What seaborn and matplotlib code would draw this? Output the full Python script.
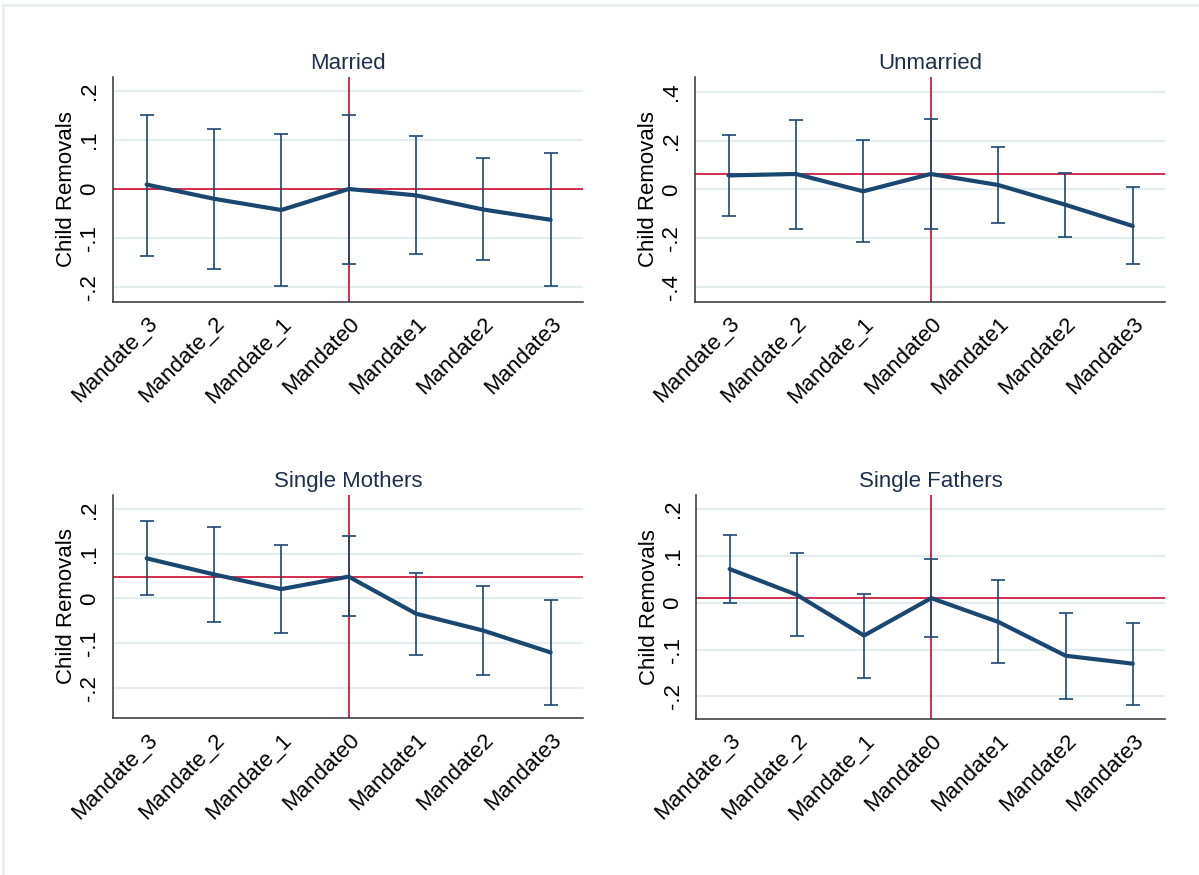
import matplotlib
matplotlib.use("Agg")
import matplotlib.pyplot as plt
import matplotlib.ticker as mticker
from matplotlib.patches import Rectangle
import seaborn as sns
import pandas as pd

# event-time categories
mandates = ["Mandate_3", "Mandate_2", "Mandate_1", "Mandate0",
            "Mandate1", "Mandate2", "Mandate3"]

# Married
married_est = [0.009, -0.020, -0.043, 0.000, -0.013, -0.042, -0.063]
married_lo = [-0.136, -0.163, -0.199, -0.154, -0.132, -0.146, -0.199]
married_hi = [0.152, 0.123, 0.113, 0.152, 0.108, 0.063, 0.074]
married_ref = 0.0

# Unmarried
unmarried_est = [0.057, 0.063, -0.008, 0.063, 0.018, -0.063, -0.150]
unmarried_lo = [-0.109, -0.162, -0.216, -0.162, -0.138, -0.197, -0.307]
unmarried_hi = [0.223, 0.284, 0.202, 0.288, 0.173, 0.068, 0.010]
unmarried_ref = 0.063

# Single mothers
mothers_est = [0.090, 0.054, 0.021, 0.049, -0.034, -0.072, -0.121]
mothers_lo = [0.007, -0.052, -0.078, -0.040, -0.127, -0.172, -0.238]
mothers_hi = [0.173, 0.160, 0.120, 0.140, 0.058, 0.028, -0.004]
mothers_ref = 0.049

# Single fathers
fathers_est = [0.072, 0.017, -0.070, 0.010, -0.041, -0.113, -0.130]
fathers_lo = [-0.001, -0.070, -0.161, -0.074, -0.129, -0.206, -0.218]
fathers_hi = [0.145, 0.106, 0.019, 0.094, 0.048, -0.021, -0.043]
fathers_ref = 0.010

NAVY = "#1a476f"
RED = "#d01c3f"
GRID = "#e4eef1"
TEXT = "#1e2f4d"
FS = 16


def stata_fmt(x, pos):
    """Stata-like tick labels: .2, 0, -.1"""
    if abs(x) < 1e-9:
        return "0"
    s = f"{x:g}"
    return s.replace("0.", ".")


def draw_panel(ax, title, est, lo, hi, ref, ylim, yticks):
    df = pd.DataFrame({"mandate": mandates, "est": est, "lo": lo, "hi": hi})
    pos = list(range(len(mandates)))

    for t in yticks:
        ax.axhline(t, color=GRID, lw=1.6, zorder=0)
    ax.axhline(ref, color=RED, lw=1.3, zorder=1)
    ax.axvline(pos[mandates.index("Mandate0")], color=RED, lw=1.3, zorder=1)

    ax.errorbar(pos, df["est"],
                yerr=[df["est"] - df["lo"], df["hi"] - df["est"]],
                fmt="none", ecolor=NAVY, elinewidth=1.4, capsize=5,
                capthick=1.4, zorder=2, alpha=0.85)
    sns.lineplot(x=pos, y=df["est"].values, ax=ax, color=NAVY, lw=3,
                 zorder=3)

    ax.set_xlim(-0.5, 6.48)
    ax.set_ylim(*ylim)
    ax.set_xticks(pos)
    ax.set_xticklabels(mandates, rotation=45, ha="right",
                       rotation_mode="anchor", fontsize=FS, color="black")
    ax.set_yticks(yticks)
    ax.yaxis.set_major_formatter(mticker.FuncFormatter(stata_fmt))
    for lab in ax.get_yticklabels():
        lab.set_rotation(90)
        lab.set_va("center")
        lab.set_fontsize(FS)
        lab.set_color("black")
    ax.tick_params(axis="both", length=6, width=1.1, color="#333333",
                   direction="out")
    ax.tick_params(axis="x", pad=2)
    ax.tick_params(axis="y", pad=3)
    ax.set_title(title, fontsize=FS, color=TEXT, pad=6)
    ax.set_xlabel("")
    ax.set_ylabel("Child Removals", fontsize=FS, labelpad=2, color="black")
    sns.despine(ax=ax)
    for side in ["left", "bottom"]:
        ax.spines[side].set_color("#333333")
        ax.spines[side].set_linewidth(1.1)


def main():
    sns.set_theme(style="white")
    plt.rcParams["font.family"] = ["Liberation Sans", "DejaVu Sans"]

    fig = plt.figure(figsize=(11.99, 8.75), dpi=100)
    fig.add_artist(Rectangle((3 / 1199, -0.1), 1.2, 1.1 - 5 / 875,
                             transform=fig.transFigure, fill=False,
                             edgecolor="#e9eef0", lw=2))

    ax1 = fig.add_axes([0.0942, 0.6549, 0.392, 0.2571])
    ax2 = fig.add_axes([0.5795, 0.6549, 0.3922, 0.2571])
    ax3 = fig.add_axes([0.0942, 0.1794, 0.392, 0.2549])
    ax4 = fig.add_axes([0.5805, 0.1783, 0.3912, 0.2560])

    ticks2 = [-0.2, -0.1, 0, 0.1, 0.2]
    ticks4 = [-0.4, -0.2, 0, 0.2, 0.4]
    draw_panel(ax1, "Married", married_est, married_lo, married_hi,
               married_ref, (-0.231, 0.229), ticks2)
    draw_panel(ax2, "Unmarried", unmarried_est, unmarried_lo, unmarried_hi,
               unmarried_ref, (-0.461, 0.46), ticks4)
    draw_panel(ax3, "Single Mothers", mothers_est, mothers_lo, mothers_hi,
               mothers_ref, (-0.268, 0.232), ticks2)
    draw_panel(ax4, "Single Fathers", fathers_est, fathers_lo, fathers_hi,
               fathers_ref, (-0.248, 0.23), ticks2)

    fig.savefig("out.png", dpi=100, facecolor="white")


if __name__ == "__main__":
    main()
